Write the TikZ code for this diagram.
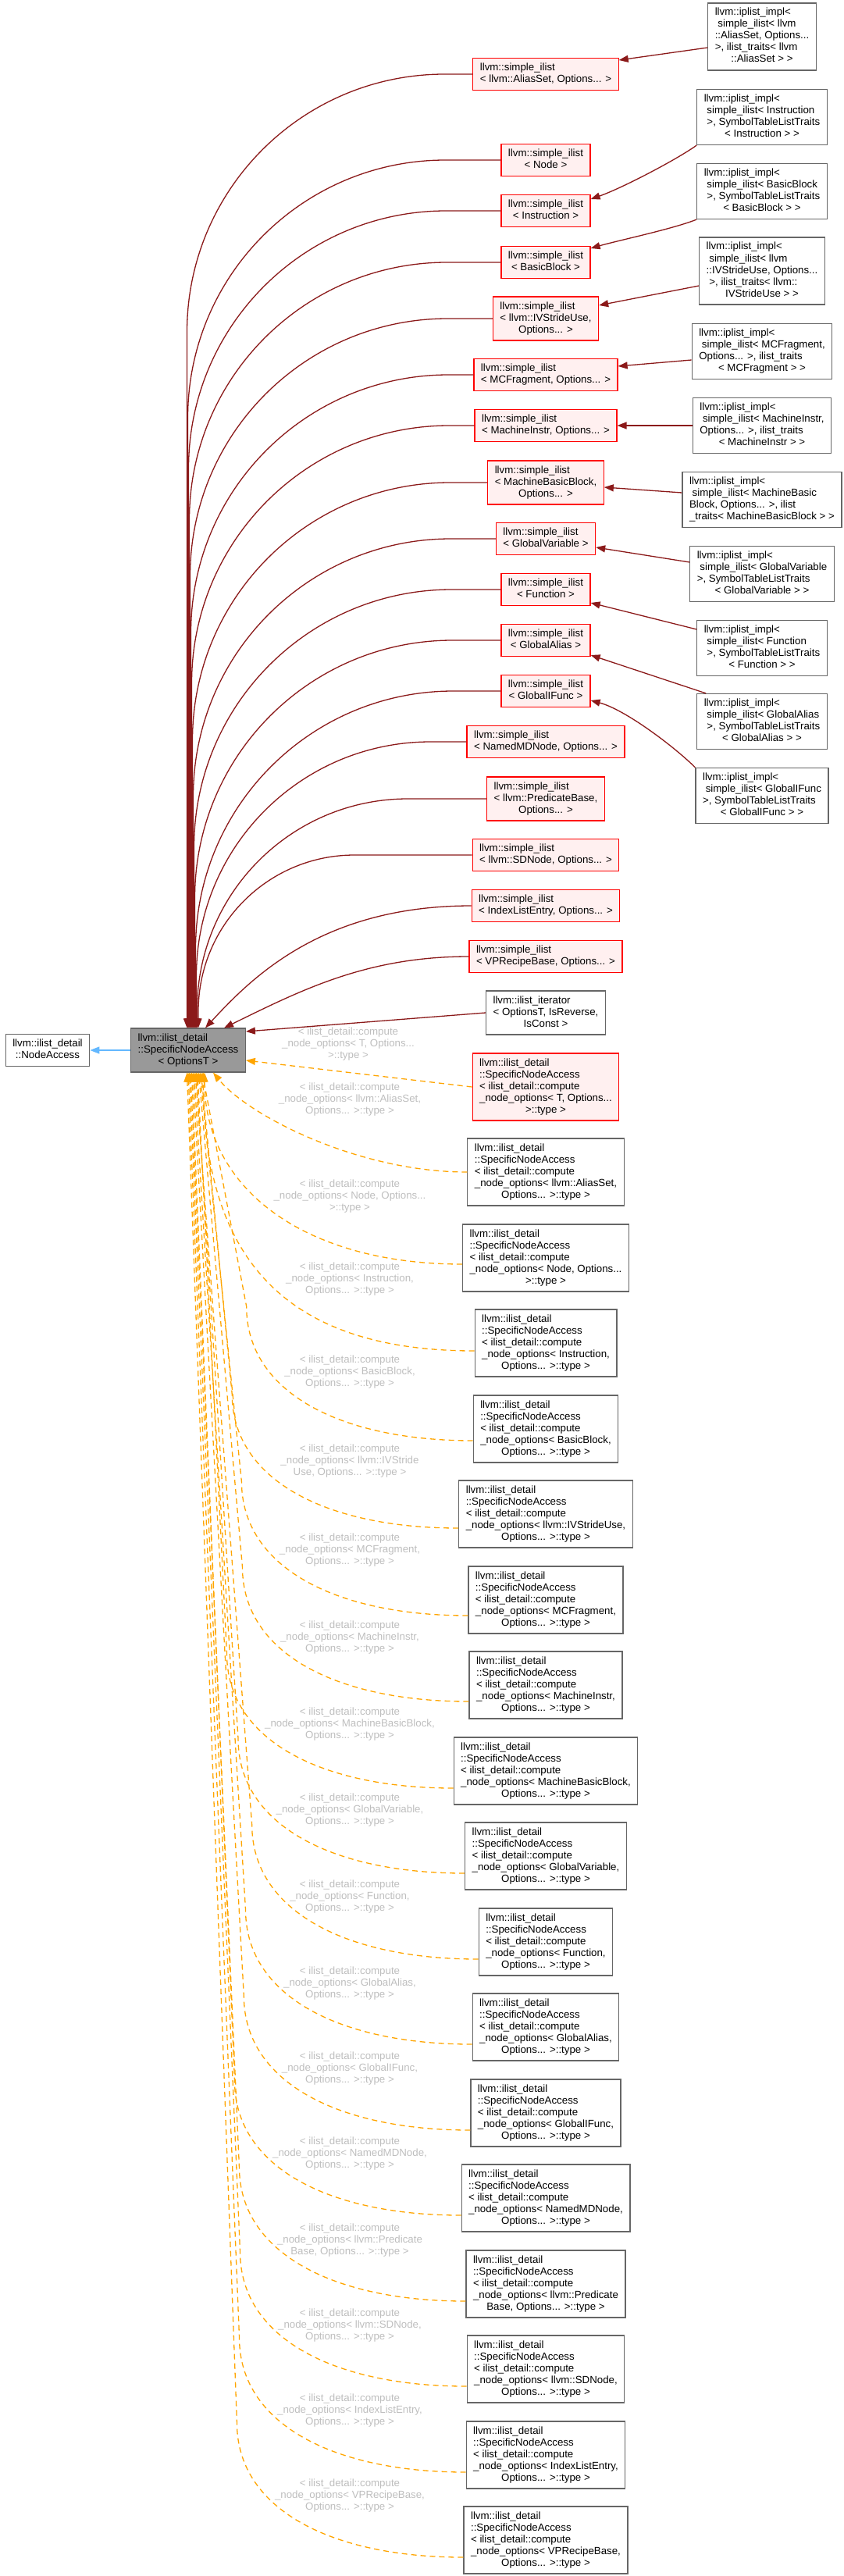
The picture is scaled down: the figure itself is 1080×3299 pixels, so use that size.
\documentclass[tikz,border=0pt]{standalone}
\usepackage{fontspec}
\setmainfont{Liberation Sans}
\usetikzlibrary{arrows.meta}
\definecolor{edgered}{HTML}{8B1A1A}
\definecolor{edgeorange}{HTML}{FFA500}
\definecolor{edgeblue}{HTML}{63B8FF}
\definecolor{boxline}{HTML}{666666}
\definecolor{boxgrey}{HTML}{999999}
\definecolor{pinkfill}{HTML}{FFF0F0}
\definecolor{lblgrey}{HTML}{BEBEBE}
\newcommand{\clsbox}[2]{\begin{tabular}{@{}l@{}}#1\\\multicolumn{1}{@{}c@{}}{#2}\end{tabular}}
\newcommand{\snabox}[2]{\clsbox{llvm::ilist\_detail\\::SpecificNodeAccess\\< ilist\_detail::compute\\#1}{#2}}
\newcommand{\cmplbl}[2]{< ilist\_detail::compute\\#1\\#2}

\begin{document}
\begin{tikzpicture}[x=1pt,y=-1pt,
  txt/.style={font=\fontsize{13.3pt}{15pt}\selectfont},
  cls/.style={txt, draw=boxline, fill=white, line width=1.2pt, inner xsep=9pt, inner ysep=5.5pt},
  clsred/.style={cls, draw=red, fill=pinkfill},
  clsbase/.style={cls, fill=boxgrey},
  lbl/.style={txt, text=lblgrey, align=center},
  inh/.style={draw=edgered, line width=1.3pt, -{Triangle[length=12pt,width=9pt]}},
  tmpl/.style={draw=edgeorange, line width=1.3pt, dash pattern=on 7pt off 5pt, -{Triangle[length=12pt,width=9pt]}},
  pub/.style={draw=edgeblue, line width=1.3pt, -{Triangle[length=12pt,width=9pt]}}]
\useasboundingbox (0,0) rectangle (1080,3299);

\node[cls] (nacc) at (61,1345) {\clsbox{llvm::ilist\_detail}{::NodeAccess}};
\node[clsbase] (base) at (241,1345) {\clsbox{llvm::ilist\_detail\\::SpecificNodeAccess}{< OptionsT >}};

\node[cls] (ipAS) at (976,47) {\clsbox{llvm::iplist\_impl<\\\ simple\_ilist< llvm\\::AliasSet, Options...\\>, ilist\_traits< llvm}{::AliasSet > >}};
\node[cls] (ipIn) at (976,150) {\clsbox{llvm::iplist\_impl<\\\ simple\_ilist< Instruction\\\ >, SymbolTableListTraits}{< Instruction > >}};
\node[cls] (ipBB) at (976,245) {\clsbox{llvm::iplist\_impl<\\\ simple\_ilist< BasicBlock\\\ >, SymbolTableListTraits}{< BasicBlock > >}};
\node[cls] (ipIV) at (976,347) {\clsbox{llvm::iplist\_impl<\\\ simple\_ilist< llvm\\::IVStrideUse, Options...\\\ >, ilist\_traits< llvm::}{IVStrideUse > >}};
\node[cls] (ipMC) at (976,450) {\clsbox{llvm::iplist\_impl<\\\ simple\_ilist< MCFragment,\\Options... >, ilist\_traits}{< MCFragment > >}};
\node[cls] (ipMI) at (976,545) {\clsbox{llvm::iplist\_impl<\\\ simple\_ilist< MachineInstr,\\Options... >, ilist\_traits}{< MachineInstr > >}};
\node[cls] (ipMB) at (976,640) {\clsbox{llvm::iplist\_impl<\\\ simple\_ilist< MachineBasic\\Block, Options... >, ilist}{\_traits< MachineBasicBlock > >}};
\node[cls] (ipGV) at (976,735) {\clsbox{llvm::iplist\_impl<\\\ simple\_ilist< GlobalVariable\\>, SymbolTableListTraits}{< GlobalVariable > >}};
\node[cls] (ipFn) at (976,830) {\clsbox{llvm::iplist\_impl<\\\ simple\_ilist< Function\\\ >, SymbolTableListTraits}{< Function > >}};
\node[cls] (ipGA) at (976,924) {\clsbox{llvm::iplist\_impl<\\\ simple\_ilist< GlobalAlias\\\ >, SymbolTableListTraits}{< GlobalAlias > >}};
\node[cls] (ipGI) at (976,1019) {\clsbox{llvm::iplist\_impl<\\\ simple\_ilist< GlobalIFunc\\>, SymbolTableListTraits}{< GlobalIFunc > >}};

\node[clsred] (siAS) at (699,95) {\clsbox{llvm::simple\_ilist}{< llvm::AliasSet, Options... >}};
\node[clsred] (siNd) at (699,205) {\clsbox{llvm::simple\_ilist}{< Node >}};
\node[clsred] (siIn) at (699,270) {\clsbox{llvm::simple\_ilist}{< Instruction >}};
\node[clsred] (siBB) at (699,336) {\clsbox{llvm::simple\_ilist}{< BasicBlock >}};
\node[clsred] (siIV) at (699,408) {\clsbox{llvm::simple\_ilist\\< llvm::IVStrideUse,}{Options... >}};
\node[clsred] (siMC) at (699,480) {\clsbox{llvm::simple\_ilist}{< MCFragment, Options... >}};
\node[clsred] (siMI) at (699,545) {\clsbox{llvm::simple\_ilist}{< MachineInstr, Options... >}};
\node[clsred] (siMB) at (699,618) {\clsbox{llvm::simple\_ilist\\< MachineBasicBlock,}{Options... >}};
\node[clsred] (siGV) at (699,690) {\clsbox{llvm::simple\_ilist}{< GlobalVariable >}};
\node[clsred] (siFn) at (699,755) {\clsbox{llvm::simple\_ilist}{< Function >}};
\node[clsred] (siGA) at (699,820) {\clsbox{llvm::simple\_ilist}{< GlobalAlias >}};
\node[clsred] (siGI) at (699,885) {\clsbox{llvm::simple\_ilist}{< GlobalIFunc >}};
\node[clsred] (siNM) at (699,950) {\clsbox{llvm::simple\_ilist}{< NamedMDNode, Options... >}};
\node[clsred] (siPB) at (699,1023) {\clsbox{llvm::simple\_ilist\\< llvm::PredicateBase,}{Options... >}};
\node[clsred] (siSD) at (699,1095) {\clsbox{llvm::simple\_ilist}{< llvm::SDNode, Options... >}};
\node[clsred] (siIL) at (699,1160) {\clsbox{llvm::simple\_ilist}{< IndexListEntry, Options... >}};
\node[clsred] (siVP) at (699,1225) {\clsbox{llvm::simple\_ilist}{< VPRecipeBase, Options... >}};
\node[cls] (iter) at (699,1297) {\clsbox{llvm::ilist\_iterator\\< OptionsT, IsReverse,}{IsConst >}};
\node[clsred] (snaT) at (699,1392) {\snabox{\_node\_options< T, Options...}{>::type >}};

\node[cls] (snAS) at (699,1501) {\snabox{\_node\_options< llvm::AliasSet,}{Options... >::type >}};
\node[cls] (snNd) at (699,1611) {\snabox{\_node\_options< Node, Options...}{>::type >}};
\node[cls] (snIn) at (699,1720) {\snabox{\_node\_options< Instruction,}{Options... >::type >}};
\node[cls] (snBB) at (699,1830) {\snabox{\_node\_options< BasicBlock,}{Options... >::type >}};
\node[cls] (snIV) at (699,1939) {\snabox{\_node\_options< llvm::IVStrideUse,}{Options... >::type >}};
\node[cls] (snMC) at (699,2049) {\snabox{\_node\_options< MCFragment,}{Options... >::type >}};
\node[cls] (snMI) at (699,2158) {\snabox{\_node\_options< MachineInstr,}{Options... >::type >}};
\node[cls] (snMB) at (699,2268) {\snabox{\_node\_options< MachineBasicBlock,}{Options... >::type >}};
\node[cls] (snGV) at (699,2377) {\snabox{\_node\_options< GlobalVariable,}{Options... >::type >}};
\node[cls] (snFn) at (699,2487) {\snabox{\_node\_options< Function,}{Options... >::type >}};
\node[cls] (snGA) at (699,2596) {\snabox{\_node\_options< GlobalAlias,}{Options... >::type >}};
\node[cls] (snGI) at (699,2706) {\snabox{\_node\_options< GlobalIFunc,}{Options... >::type >}};
\node[cls] (snNM) at (699,2815) {\snabox{\_node\_options< NamedMDNode,}{Options... >::type >}};
\node[cls] (snPB) at (699,2925) {\snabox{\_node\_options< llvm::Predicate}{Base, Options... >::type >}};
\node[cls] (snSD) at (699,3034) {\snabox{\_node\_options< llvm::SDNode,}{Options... >::type >}};
\node[cls] (snIL) at (699,3144) {\snabox{\_node\_options< IndexListEntry,}{Options... >::type >}};
\node[cls] (snVP) at (699,3253) {\snabox{\_node\_options< VPRecipeBase,}{Options... >::type >}};

\node[lbl] (lbT) at (446,1337) {\cmplbl{\_node\_options< T, Options...}{>::type >}};
\node[lbl] (lbAS) at (448,1408) {\cmplbl{\_node\_options< llvm::AliasSet,}{Options... >::type >}};
\node[lbl] (lbNd) at (448,1532) {\cmplbl{\_node\_options< Node, Options...}{>::type >}};
\node[lbl] (lbIn) at (448,1638) {\cmplbl{\_node\_options< Instruction,}{Options... >::type >}};
\node[lbl] (lbBB) at (448,1757) {\cmplbl{\_node\_options< BasicBlock,}{Options... >::type >}};
\node[lbl] (lbIV) at (448,1871) {\cmplbl{\_node\_options< llvm::IVStride}{Use, Options... >::type >}};
\node[lbl] (lbMC) at (448,1985) {\cmplbl{\_node\_options< MCFragment,}{Options... >::type >}};
\node[lbl] (lbMI) at (448,2097) {\cmplbl{\_node\_options< MachineInstr,}{Options... >::type >}};
\node[lbl] (lbMB) at (448,2208) {\cmplbl{\_node\_options< MachineBasicBlock,}{Options... >::type >}};
\node[lbl] (lbGV) at (448,2318) {\cmplbl{\_node\_options< GlobalVariable,}{Options... >::type >}};
\node[lbl] (lbFn) at (448,2429) {\cmplbl{\_node\_options< Function,}{Options... >::type >}};
\node[lbl] (lbGA) at (448,2540) {\cmplbl{\_node\_options< GlobalAlias,}{Options... >::type >}};
\node[lbl] (lbGI) at (448,2649) {\cmplbl{\_node\_options< GlobalIFunc,}{Options... >::type >}};
\node[lbl] (lbNM) at (448,2758) {\cmplbl{\_node\_options< NamedMDNode,}{Options... >::type >}};
\node[lbl] (lbPB) at (448,2869) {\cmplbl{\_node\_options< llvm::Predicate}{Base, Options... >::type >}};
\node[lbl] (lbSD) at (448,2978) {\cmplbl{\_node\_options< llvm::SDNode,}{Options... >::type >}};
\node[lbl] (lbIL) at (448,3087) {\cmplbl{\_node\_options< IndexListEntry,}{Options... >::type >}};
\node[lbl] (lbVP) at (448,3196) {\cmplbl{\_node\_options< VPRecipeBase,}{Options... >::type >}};

\draw[pub] (base.west) -- (nacc.east);

\draw[inh] ([yshift=-14pt]ipAS.west) -- ([yshift=18pt]siAS.east);
\draw[inh] (ipIn.south west) .. controls +(-25,18) and +(40,-14) .. ([yshift=15pt]siIn.east);
\draw[inh] (ipBB.south west) .. controls +(-30,12) and +(35,-10) .. ([yshift=18pt]siBB.east);
\draw[inh] ([yshift=-19pt]ipIV.west) -- ([yshift=17pt]siIV.east);
\draw[inh] ([yshift=-11pt]ipMC.west) -- ([yshift=11pt]siMC.east);
\draw[inh] (ipMI.west) -- (siMI.east);
\draw[inh] ([yshift=9pt]ipMB.west) -- ([yshift=-6pt]siMB.east);
\draw[inh] ([yshift=15pt]ipGV.west) -- ([yshift=-11pt]siGV.east);
\draw[inh] ([yshift=24pt]ipFn.west) -- ([yshift=-17pt]siFn.east);
\draw[inh] ([xshift=12pt]ipGA.north west) -- ([yshift=-19pt]siGA.east);
\draw[inh] (ipGI.north west) .. controls +(-25,-25) and +(45,12) .. ([yshift=-12pt]siGI.east);

\draw[inh,rounded corners=330pt] (siAS.west) -| ([xshift=-1.5pt]base.north);
\draw[inh,rounded corners=330pt] (siNd.west) -| ([xshift=-0.5pt]base.north);
\draw[inh,rounded corners=330pt] (siIn.west) -| ([xshift=0.5pt]base.north);
\draw[inh,rounded corners=330pt] (siBB.west) -| ([xshift=1.5pt]base.north);
\draw[inh,rounded corners=330pt] (siIV.west) -| ([xshift=2.5pt]base.north);
\draw[inh,rounded corners=330pt] (siMC.west) -| ([xshift=3.5pt]base.north);
\draw[inh,rounded corners=330pt] (siMI.west) -| ([xshift=4.5pt]base.north);
\draw[inh,rounded corners=330pt] (siMB.west) -| ([xshift=5.5pt]base.north);
\draw[inh,rounded corners=330pt] (siGV.west) -| ([xshift=6.5pt]base.north);
\draw[inh,rounded corners=330pt] (siFn.west) -| ([xshift=7.5pt]base.north);
\draw[inh,rounded corners=330pt] (siGA.west) -| ([xshift=8.5pt]base.north);
\draw[inh,rounded corners=330pt] (siGI.west) -| ([xshift=9.5pt]base.north);
\draw[inh,rounded corners=300pt] (siNM.west) -| ([xshift=10.5pt]base.north);
\draw[inh,rounded corners=270pt] (siPB.west) -| ([xshift=11.5pt]base.north);
\draw[inh,rounded corners=200pt] (siSD.west) -| ([xshift=13pt]base.north);
\draw[inh] (siIL.west) .. controls +(-190,0) and +(60,-65) .. ([xshift=22pt]base.north);
\draw[inh] (siVP.west) .. controls +(-130,0) and +(100,-49) .. ([xshift=46pt]base.north);
\draw[inh] (iter.west) -- ([yshift=24pt]base.east);

\draw[tmpl] (snaT.west) -- ([yshift=-13pt]base.east);
\draw[tmpl] (snAS.west) .. controls +(-140,0) and +(45,55) .. ([xshift=32pt]base.south);
\draw[tmpl] ([yshift=-8pt]snNd.west) .. controls +(-200,0) and +(0,150) .. ([xshift=21pt]base.south);
\draw[tmpl] ([yshift=-10pt]snIn.west) .. controls +(-230,0) and +(0,250) .. ([xshift=19.5pt]base.south);
\draw[tmpl] ([yshift=-15pt]snBB.west) .. controls +(-170,0) and +(0,110) .. ++(-290,-172) -- ([xshift=18pt]base.south);
\draw[tmpl] ([yshift=-18pt]snIV.west) .. controls +(-170,0) and +(0,110) .. ++(-290,-172) -- ([xshift=16.5pt]base.south);
\draw[tmpl] ([yshift=-20pt]snMC.west) .. controls +(-170,0) and +(0,110) .. ++(-290,-172) -- ([xshift=15pt]base.south);
\draw[tmpl] ([yshift=-21pt]snMI.west) .. controls +(-170,0) and +(0,110) .. ++(-290,-172) -- ([xshift=13.5pt]base.south);
\draw[tmpl] ([yshift=-22pt]snMB.west) .. controls +(-170,0) and +(0,110) .. ++(-290,-172) -- ([xshift=12pt]base.south);
\draw[tmpl] ([yshift=-22pt]snGV.west) .. controls +(-170,0) and +(0,110) .. ++(-290,-172) -- ([xshift=10.5pt]base.south);
\draw[tmpl] ([yshift=-22pt]snFn.west) .. controls +(-170,0) and +(0,110) .. ++(-290,-172) -- ([xshift=9pt]base.south);
\draw[tmpl] ([yshift=-22pt]snGA.west) .. controls +(-170,0) and +(0,110) .. ++(-290,-172) -- ([xshift=7.5pt]base.south);
\draw[tmpl] ([yshift=-22pt]snGI.west) .. controls +(-170,0) and +(0,110) .. ++(-290,-172) -- ([xshift=6pt]base.south);
\draw[tmpl] ([yshift=-22pt]snNM.west) .. controls +(-170,0) and +(0,110) .. ++(-290,-172) -- ([xshift=4.5pt]base.south);
\draw[tmpl] ([yshift=-22pt]snPB.west) .. controls +(-170,0) and +(0,110) .. ++(-290,-172) -- ([xshift=3pt]base.south);
\draw[tmpl] ([yshift=-22pt]snSD.west) .. controls +(-170,0) and +(0,110) .. ++(-290,-172) -- ([xshift=1.5pt]base.south);
\draw[tmpl] ([yshift=-22pt]snIL.west) .. controls +(-170,0) and +(0,110) .. ++(-290,-172) -- (base.south);
\draw[tmpl] ([yshift=-22pt]snVP.west) .. controls +(-170,0) and +(0,110) .. ++(-290,-172) -- ([xshift=-1.5pt]base.south);
\end{tikzpicture}
\end{document}
